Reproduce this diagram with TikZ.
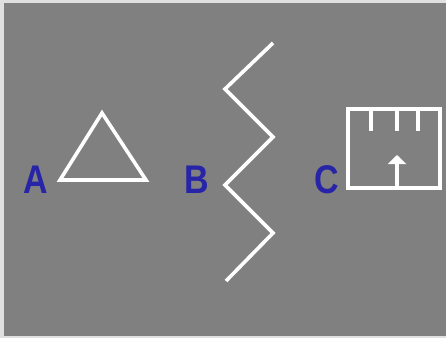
\documentclass[tikz,border=0pt]{standalone}
\usepackage{fontspec}
\setsansfont{Liberation Sans}
\usetikzlibrary{arrows.meta}
\definecolor{panelgrey}{RGB}{128,128,128}
\definecolor{letterblue}{RGB}{40,36,168}

\begin{document}
\begin{tikzpicture}[
  x=1pt, y=-1pt,
  figline/.style={draw=white, line width=3.6pt, line join=miter},
  letter/.style={text=letterblue, font=\fontsize{40}{40}\selectfont\sffamily\bfseries, xscale=0.85, inner sep=0pt},
  arr/.style={-{Triangle[width=18pt, length=9pt]}, draw=white, line width=3.2pt}
]
  \useasboundingbox (0,0) rectangle (446,338);
  \fill[white!88!black] (0,0) rectangle (446,338);
  \fill[panelgrey] (4,3) rectangle (446,336);
  % Labels
  \node[letter] (A) at (36,180) {A};
  \node[letter] (B) at (197,180) {B};
  \node[letter] (C) at (327,180) {C};
  % Triangle
  \draw[figline] (60,180) -- (102,113) -- (146,180) -- cycle;
  % Zigzag
  \draw[figline] (273,43) -- (225,89) -- (273,137) -- (225,185) -- (273,233) -- (226,281);
  % Box with ticks and arrow
  \draw[figline] (348,109) rectangle (440,188);
  \foreach \tx in {371,397,418}
    \draw[figline] (\tx,109) -- (\tx,131);
  \coordinate (base) at (397,188);
  \coordinate (tip) at (397,155);
  \draw[arr] (base) -- (tip);
\end{tikzpicture}
\end{document}
